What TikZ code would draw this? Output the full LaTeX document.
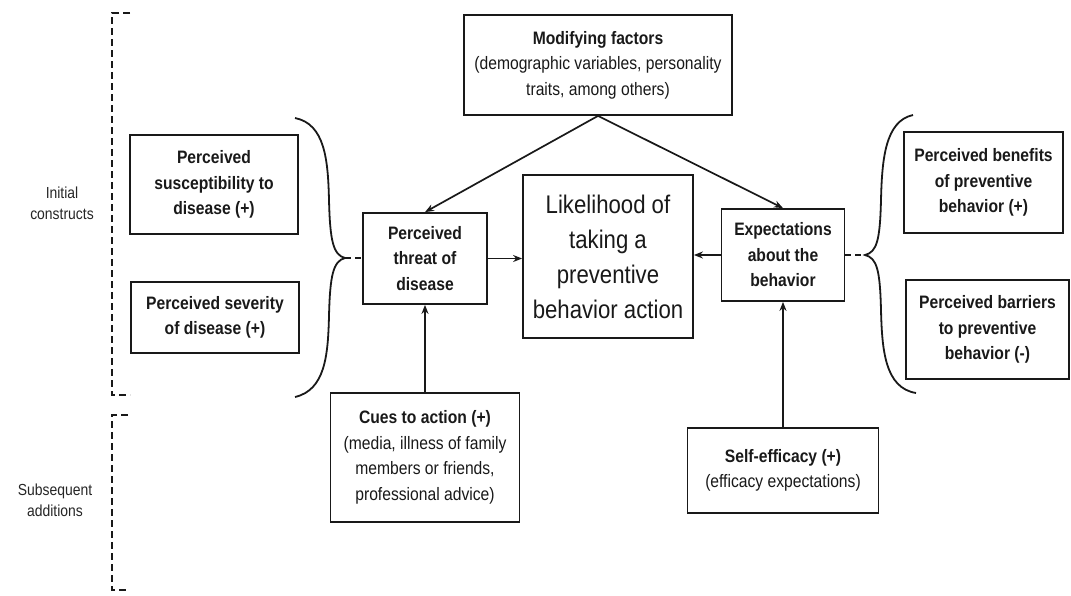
\documentclass[tikz,border=0pt]{standalone}
\usepackage{fontspec}
\setmainfont{Liberation Sans}[FakeStretch=0.87]
\usetikzlibrary{arrows.meta}
\begin{document}
\begin{tikzpicture}[x=1pt,y=-1pt,
  box/.style={draw=black!90,line width=1.8pt,align=center,inner sep=2pt,text=black!90,
    font=\fontsize{18}{25.5}\selectfont},
  bbox/.style={box,font=\bfseries\fontsize{18}{25.5}\selectfont},
  conn/.style={draw=black!90,line width=1.7pt,-{Stealth[length=9pt,width=7pt]}},
  brace/.style={draw=black!90,line width=1.8pt},
  dsh/.style={draw=black!90,line width=1.8pt,dash pattern=on 7pt off 4pt},
  side/.style={align=center,text=black!85,font=\fontsize{16}{21}\selectfont}]
\useasboundingbox (0,0) rectangle (1071,595);
\fill[white] (0,0) rectangle (1071,595);

% side labels and dashed brackets
\node[side] (ini) at (62,203) {Initial\\constructs};
\node[side] (sub) at (55,500) {Subsequent\\additions};
\coordinate (b1a) at (130,13);
\coordinate (b1b) at (130,395);
\coordinate (b2a) at (128,415);
\coordinate (b2b) at (128,590);
\draw[dsh] (b1a) -- (112,13) -- (112,395) -- (b1b);
\draw[dsh] (b2a) -- (112,415) -- (112,590) -- (b2b);

% boxes
\node[bbox,minimum width=168pt,minimum height=99pt] (sus) at (214,184.5) {Perceived\\susceptibility to\\disease (+)};
\node[bbox,minimum width=168pt,minimum height=71pt] (sev) at (215,317.5) {Perceived severity\\of disease (+)};
\node[bbox,minimum width=124pt,minimum height=91pt] (threat) at (425,258.5) {Perceived\\threat of\\disease};
\node[box,minimum width=268pt,minimum height=100pt] (mod) at (598,65) {\textbf{Modifying factors}\\(demographic variables, personality\\traits, among others)};
\node[box,minimum width=170pt,minimum height=163pt,font=\fontsize{25.5}{35}\selectfont] (like) at (608,256.5) {Likelihood of\\taking a\\preventive\\behavior action};
\node[bbox,minimum width=123pt,minimum height=92pt] (exp) at (783,255) {Expectations\\about the\\behavior};
\node[bbox,minimum width=159pt,minimum height=101pt] (ben) at (983.5,182.5) {Perceived benefits\\of preventive\\behavior (+)};
\node[bbox,minimum width=163pt,minimum height=99pt] (bar) at (987.5,329.5) {Perceived barriers\\to preventive\\behavior (-)};
\node[box,minimum width=189pt,minimum height=129pt] (cues) at (425,457.5) {\textbf{Cues to action (+)}\\(media, illness of family\\members or friends,\\professional advice)};
\node[box,minimum width=191pt,minimum height=85pt] (self) at (783,470.5) {\textbf{Self-efficacy (+)}\\(efficacy expectations)};

% braces
\coordinate (lt) at (345,258);
\coordinate (rt) at (865,255);
\draw[brace] (295,118) .. controls (325,124) and (328,160) .. (329,200)
  .. controls (330,240) and (333,255) .. (lt)
  .. controls (333,261) and (330,276) .. (329,316)
  .. controls (328,356) and (325,390) .. (295,397);
\draw[brace] (913,115) .. controls (885,121) and (882,160) .. (881,200)
  .. controls (880,240) and (877,252) .. (rt)
  .. controls (877,258) and (880,270) .. (881,310)
  .. controls (882,350) and (885,388) .. (916,393);
\draw[dsh,dash pattern=on 6pt off 4pt] (lt) -- (lt -| threat.west);
\draw[dsh,dash pattern=on 6pt off 4pt] (exp.east) -- (rt);

% arrows
\draw[conn] (threat.east) -- (threat.east -| like.west);
\draw[conn] (exp.west) -- (exp.west -| like.east);
\draw[conn] (mod.south) -- (threat.north);
\draw[conn] (mod.south) -- (exp.north);
\draw[conn] (cues.north) -- (threat.south);
\draw[conn] (self.north) -- (exp.south);
\end{tikzpicture}
\end{document}
